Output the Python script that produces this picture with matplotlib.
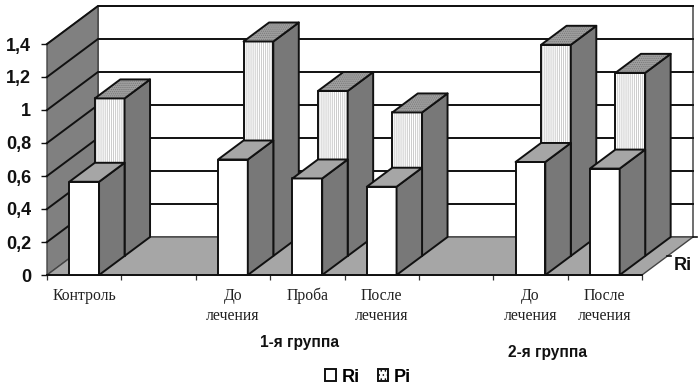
import matplotlib
matplotlib.use("Agg")
import matplotlib.pyplot as plt
from matplotlib.patches import Patch, Polygon

categories = ["Контроль", "", "До\nлечения", "Проба", "После\nлечения", "",
              "До\nлечения", "После\nлечения"]
ri_values = [0.565, None, 0.70, 0.585, 0.535, None, 0.685, 0.645]
pi_values = [0.955, None, 1.30, 1.00, 0.87, None, 1.28, 1.11]
y_ticks = [0, 0.2, 0.4, 0.6, 0.8, 1.0, 1.2, 1.4]
y_labels = ["0", "0,2", "0,4", "0,6", "0,8", "1", "1,2", "1,4"]
depth_label = "Ri"
group_labels = ["1-я группа", "2-я группа"]
series_names = ["Ri", "Pi"]

DEPTH_X = 51 / 74.4
DEPTH_Y = 38 / 165
BAR_START = 0.3
BAR_WIDTH = 0.4
WALL = "#808080"
FLOOR = "#a6a6a6"
SIDE = "#787878"
EDGE = "#111111"


def project(x, y, depth):
    return x + depth * DEPTH_X, y + depth * DEPTH_Y


def add_face(ax, points, color, hatch=None, hatch_color=None, lw=1.4, edge=EDGE, z=2):
    if hatch:
        ax.add_patch(Polygon(points, closed=True, facecolor=color, hatch=hatch,
                             edgecolor=hatch_color, linewidth=0, clip_on=False, zorder=z))
        color = "none"
    ax.add_patch(Polygon(points, closed=True, facecolor=color, edgecolor=edge,
                         linewidth=lw, joinstyle="round", clip_on=False, zorder=z))


def draw_bar(ax, i, top, d0, d1, front_color, top_color, side_color, hatch=False, z=3):
    x0 = i + BAR_START
    x1 = x0 + BAR_WIDTH
    front = [project(x0, 0, d0), project(x1, 0, d0), project(x1, top, d0), project(x0, top, d0)]
    side = [project(x1, 0, d0), project(x1, 0, d1), project(x1, top, d1), project(x1, top, d0)]
    cap = [project(x0, top, d0), project(x1, top, d0), project(x1, top, d1), project(x0, top, d1)]
    if hatch:
        add_face(ax, front, front_color, hatch="||||||||", hatch_color="#c4c4c4", z=z)
        add_face(ax, side, side_color, z=z)
        add_face(ax, cap, top_color, hatch="........", hatch_color="#777777", z=z)
    else:
        add_face(ax, front, front_color, z=z)
        add_face(ax, side, side_color, z=z)
        add_face(ax, cap, top_color, z=z)


def draw_frame(ax):
    n = len(categories)
    top = y_ticks[-1]
    # back wall, left wall and floor
    add_face(ax, [project(0, 0, 1), project(n, 0, 1), project(n, top, 1), project(0, top, 1)],
             "white", lw=1.2, edge="#555555", z=1)
    add_face(ax, [project(0, 0, 0), project(0, 0, 1), project(0, top, 1), project(0, top, 0)],
             WALL, lw=1.0, edge="#444444", z=1)
    add_face(ax, [project(0, 0, 0), project(n, 0, 0), project(n, 0, 1), project(0, 0, 1)],
             FLOOR, lw=1.0, edge="#444444", z=1.5)
    for tick in y_ticks[1:]:
        xs, ys = zip(project(0, tick, 0), project(0, tick, 1), project(n, tick, 1))
        ax.plot(xs, ys, color=EDGE, lw=1.4, clip_on=False, zorder=1.2)
    # front edge of the floor and ticks on the depth axis
    ax.plot([0, n], [0, 0], color=EDGE, lw=1.4, clip_on=False, zorder=1.6)
    for depth in (0.5, 1):
        px, py = project(n, 0, depth)
        ax.plot([px, px + 0.05], [py, py], color=EDGE, lw=1.2, clip_on=False, zorder=1.6)


def main():
    plt.rcParams["font.family"] = ["Liberation Sans", "DejaVu Sans"]
    plt.rcParams["hatch.linewidth"] = 0.6
    fig = plt.figure(figsize=(7, 3.9), dpi=100)
    ax = fig.add_axes([47 / 700, 115 / 390, 595 / 700, 231 / 390])
    ax.set_xlim(0, len(categories))
    ax.set_ylim(0, y_ticks[-1])
    for spine in ax.spines.values():
        spine.set_visible(False)
    ax.patch.set_visible(False)

    draw_frame(ax)

    for i, value in enumerate(pi_values):
        if value is not None:
            draw_bar(ax, i, value, 0.5, 1, "white", "#a0a0a0", SIDE, hatch=True, z=3)
    for i, value in enumerate(ri_values):
        if value is not None:
            draw_bar(ax, i, value, 0, 0.5, "white", FLOOR, SIDE, z=4)

    ax.set_yticks(y_ticks)
    ax.set_yticklabels(y_labels, fontsize=13, fontweight="bold", color="#111111")
    ax.tick_params(axis="y", length=4.5, width=1.0, pad=7, color=EDGE)
    ax.set_xticks(range(len(categories) + 1))
    ax.set_xticklabels([])
    ax.tick_params(axis="x", which="major", length=3.6, width=0.9, color="#333333")
    ax.set_xticks([i + 0.5 for i in range(len(categories))], minor=True)
    ax.set_xticklabels(categories, minor=True, fontsize=11.3, family="Liberation Serif",
                       color="#222222", linespacing=1.35)
    ax.tick_params(axis="x", which="minor", length=0, pad=9)

    fig.text(300 / 700, 1 - 342 / 390, group_labels[0], ha="center", va="center",
             fontsize=11.2, fontweight="bold", color="#111111")
    fig.text(547 / 700, 1 - 353 / 390, group_labels[1], ha="center", va="center",
             fontsize=11.2, fontweight="bold", color="#111111")
    fig.text(674 / 700, 1 - 266 / 390, depth_label, ha="left", va="center",
             fontsize=13, fontweight="bold", color="#111111")

    handles = [Patch(facecolor="white", edgecolor=EDGE, linewidth=1.4),
               Patch(facecolor="white", edgecolor=EDGE, linewidth=1.4, hatch="....")]
    fig.legend(handles, series_names, loc="center", bbox_to_anchor=(368 / 700, 1 - 377 / 390),
               ncols=2, frameon=False, handlelength=0.6, handleheight=0.6,
               handletextpad=0.28, columnspacing=1.0, borderpad=0,
               prop={"weight": "bold", "size": 13})

    fig.savefig("out.png", dpi=100)


if __name__ == "__main__":
    main()
